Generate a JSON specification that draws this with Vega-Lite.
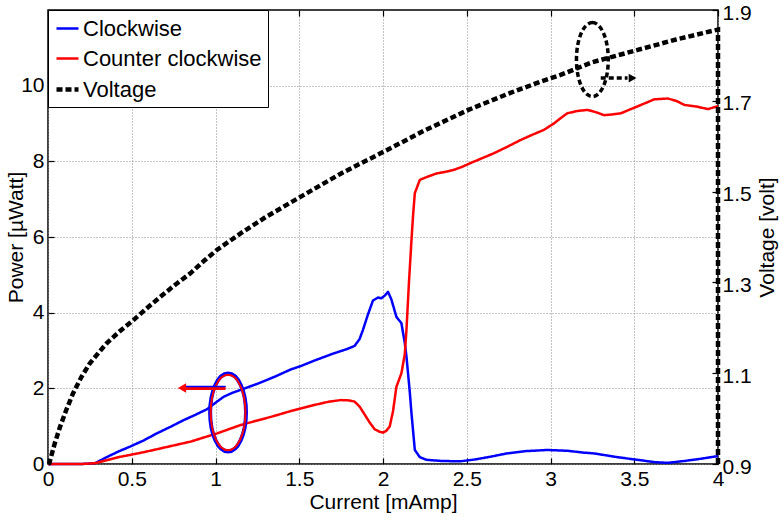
{
  "$schema": "https://vega.github.io/schema/vega-lite/v6.json",
  "width": 670,
  "height": 454,
  "autosize": {"type": "none"},
  "padding": {"left": 48, "top": 10, "right": 61, "bottom": 53},
  "background": "white",
  "config": {
    "font": "Liberation Sans",
    "view": {"stroke": "black", "strokeWidth": 1.5},
    "axis": {
      "labelFont": "Liberation Sans", "labelFontSize": 21, "labelColor": "black",
      "titleFont": "Liberation Sans", "titleFontSize": 21, "titleFontWeight": "normal", "titleColor": "black",
      "tickColor": "black", "tickSize": -6, "tickWidth": 1.2, "domain": false,
      "gridColor": "#8a8a8a", "gridDash": [1, 2], "gridOpacity": 1, "gridWidth": 1,
      "labelPadding": 10
    },
    "legend": {
      "orient": "top-left", "offset": 0, "fillColor": "white", "strokeColor": "black",
      "padding": 6, "labelFont": "Liberation Sans", "labelFontSize": 22, "labelColor": "black",
      "symbolType": "stroke", "symbolSize": 484, "rowPadding": 6, "labelOffset": 2, "labelLimit": 400
    }
  },
  "datasets": {
    "curves": [
      {"series": "Clockwise", "x": 0, "y": 0},
      {"series": "Clockwise", "x": 0.1, "y": 0},
      {"series": "Clockwise", "x": 0.2, "y": 0},
      {"series": "Clockwise", "x": 0.28, "y": 0.02},
      {"series": "Clockwise", "x": 0.35, "y": 0.18},
      {"series": "Clockwise", "x": 0.42, "y": 0.33},
      {"series": "Clockwise", "x": 0.49, "y": 0.46},
      {"series": "Clockwise", "x": 0.57, "y": 0.62},
      {"series": "Clockwise", "x": 0.65, "y": 0.81},
      {"series": "Clockwise", "x": 0.73, "y": 0.98},
      {"series": "Clockwise", "x": 0.81, "y": 1.16},
      {"series": "Clockwise", "x": 0.88, "y": 1.3},
      {"series": "Clockwise", "x": 0.95, "y": 1.45},
      {"series": "Clockwise", "x": 1.0, "y": 1.62},
      {"series": "Clockwise", "x": 1.05, "y": 1.78},
      {"series": "Clockwise", "x": 1.1, "y": 1.88},
      {"series": "Clockwise", "x": 1.15, "y": 1.96},
      {"series": "Clockwise", "x": 1.25, "y": 2.12},
      {"series": "Clockwise", "x": 1.35, "y": 2.3},
      {"series": "Clockwise", "x": 1.45, "y": 2.5},
      {"series": "Clockwise", "x": 1.51, "y": 2.59},
      {"series": "Clockwise", "x": 1.6, "y": 2.75},
      {"series": "Clockwise", "x": 1.71, "y": 2.93},
      {"series": "Clockwise", "x": 1.78, "y": 3.03},
      {"series": "Clockwise", "x": 1.83, "y": 3.12},
      {"series": "Clockwise", "x": 1.86, "y": 3.3},
      {"series": "Clockwise", "x": 1.88, "y": 3.54},
      {"series": "Clockwise", "x": 1.91, "y": 3.95},
      {"series": "Clockwise", "x": 1.94, "y": 4.32},
      {"series": "Clockwise", "x": 1.97, "y": 4.4},
      {"series": "Clockwise", "x": 1.99, "y": 4.38},
      {"series": "Clockwise", "x": 2.01, "y": 4.45},
      {"series": "Clockwise", "x": 2.03, "y": 4.55},
      {"series": "Clockwise", "x": 2.05, "y": 4.35},
      {"series": "Clockwise", "x": 2.08, "y": 3.89},
      {"series": "Clockwise", "x": 2.11, "y": 3.72},
      {"series": "Clockwise", "x": 2.13, "y": 3.2},
      {"series": "Clockwise", "x": 2.14, "y": 2.84},
      {"series": "Clockwise", "x": 2.16, "y": 1.9},
      {"series": "Clockwise", "x": 2.17, "y": 1.34},
      {"series": "Clockwise", "x": 2.19, "y": 0.37},
      {"series": "Clockwise", "x": 2.22, "y": 0.18},
      {"series": "Clockwise", "x": 2.26, "y": 0.11},
      {"series": "Clockwise", "x": 2.35, "y": 0.08},
      {"series": "Clockwise", "x": 2.46, "y": 0.07},
      {"series": "Clockwise", "x": 2.55, "y": 0.12},
      {"series": "Clockwise", "x": 2.65, "y": 0.2},
      {"series": "Clockwise", "x": 2.74, "y": 0.28},
      {"series": "Clockwise", "x": 2.85, "y": 0.34},
      {"series": "Clockwise", "x": 2.98, "y": 0.37},
      {"series": "Clockwise", "x": 3.1, "y": 0.35},
      {"series": "Clockwise", "x": 3.2, "y": 0.3},
      {"series": "Clockwise", "x": 3.26, "y": 0.28},
      {"series": "Clockwise", "x": 3.4, "y": 0.18},
      {"series": "Clockwise", "x": 3.52, "y": 0.11},
      {"series": "Clockwise", "x": 3.62, "y": 0.05},
      {"series": "Clockwise", "x": 3.7, "y": 0.03},
      {"series": "Clockwise", "x": 3.8, "y": 0.08},
      {"series": "Clockwise", "x": 3.9, "y": 0.14},
      {"series": "Clockwise", "x": 4.0, "y": 0.21},
      {"series": "Counter clockwise", "x": 0, "y": 0},
      {"series": "Counter clockwise", "x": 0.2, "y": 0},
      {"series": "Counter clockwise", "x": 0.28, "y": 0.02},
      {"series": "Counter clockwise", "x": 0.35, "y": 0.1},
      {"series": "Counter clockwise", "x": 0.42, "y": 0.18},
      {"series": "Counter clockwise", "x": 0.49, "y": 0.24},
      {"series": "Counter clockwise", "x": 0.58, "y": 0.32},
      {"series": "Counter clockwise", "x": 0.67, "y": 0.41},
      {"series": "Counter clockwise", "x": 0.76, "y": 0.5},
      {"series": "Counter clockwise", "x": 0.85, "y": 0.59},
      {"series": "Counter clockwise", "x": 0.93, "y": 0.7},
      {"series": "Counter clockwise", "x": 1.01, "y": 0.81},
      {"series": "Counter clockwise", "x": 1.08, "y": 0.92},
      {"series": "Counter clockwise", "x": 1.15, "y": 1.03},
      {"series": "Counter clockwise", "x": 1.25, "y": 1.15},
      {"series": "Counter clockwise", "x": 1.35, "y": 1.27},
      {"series": "Counter clockwise", "x": 1.45, "y": 1.4},
      {"series": "Counter clockwise", "x": 1.51, "y": 1.47},
      {"series": "Counter clockwise", "x": 1.6, "y": 1.57},
      {"series": "Counter clockwise", "x": 1.68, "y": 1.65},
      {"series": "Counter clockwise", "x": 1.75, "y": 1.69},
      {"series": "Counter clockwise", "x": 1.8, "y": 1.68},
      {"series": "Counter clockwise", "x": 1.83, "y": 1.65},
      {"series": "Counter clockwise", "x": 1.86, "y": 1.52},
      {"series": "Counter clockwise", "x": 1.88, "y": 1.38},
      {"series": "Counter clockwise", "x": 1.92, "y": 1.1},
      {"series": "Counter clockwise", "x": 1.95, "y": 0.92},
      {"series": "Counter clockwise", "x": 1.98, "y": 0.85},
      {"series": "Counter clockwise", "x": 2.0, "y": 0.83},
      {"series": "Counter clockwise", "x": 2.02, "y": 0.88},
      {"series": "Counter clockwise", "x": 2.04, "y": 0.99},
      {"series": "Counter clockwise", "x": 2.06, "y": 1.4},
      {"series": "Counter clockwise", "x": 2.08, "y": 2.04},
      {"series": "Counter clockwise", "x": 2.11, "y": 2.4},
      {"series": "Counter clockwise", "x": 2.13, "y": 2.9},
      {"series": "Counter clockwise", "x": 2.14, "y": 3.54},
      {"series": "Counter clockwise", "x": 2.155, "y": 4.8},
      {"series": "Counter clockwise", "x": 2.17, "y": 5.92},
      {"series": "Counter clockwise", "x": 2.18, "y": 6.6},
      {"series": "Counter clockwise", "x": 2.19, "y": 7.16},
      {"series": "Counter clockwise", "x": 2.22, "y": 7.51},
      {"series": "Counter clockwise", "x": 2.27, "y": 7.6},
      {"series": "Counter clockwise", "x": 2.32, "y": 7.68},
      {"series": "Counter clockwise", "x": 2.37, "y": 7.72},
      {"series": "Counter clockwise", "x": 2.42, "y": 7.77},
      {"series": "Counter clockwise", "x": 2.47, "y": 7.85},
      {"series": "Counter clockwise", "x": 2.52, "y": 7.95},
      {"series": "Counter clockwise", "x": 2.59, "y": 8.08},
      {"series": "Counter clockwise", "x": 2.66, "y": 8.21},
      {"series": "Counter clockwise", "x": 2.74, "y": 8.38},
      {"series": "Counter clockwise", "x": 2.82, "y": 8.56},
      {"series": "Counter clockwise", "x": 2.89, "y": 8.7},
      {"series": "Counter clockwise", "x": 2.96, "y": 8.83},
      {"series": "Counter clockwise", "x": 3.02, "y": 9.0},
      {"series": "Counter clockwise", "x": 3.06, "y": 9.14},
      {"series": "Counter clockwise", "x": 3.1, "y": 9.27},
      {"series": "Counter clockwise", "x": 3.16, "y": 9.33},
      {"series": "Counter clockwise", "x": 3.22, "y": 9.36},
      {"series": "Counter clockwise", "x": 3.27, "y": 9.3},
      {"series": "Counter clockwise", "x": 3.32, "y": 9.22},
      {"series": "Counter clockwise", "x": 3.37, "y": 9.24},
      {"series": "Counter clockwise", "x": 3.42, "y": 9.27},
      {"series": "Counter clockwise", "x": 3.48, "y": 9.38},
      {"series": "Counter clockwise", "x": 3.54, "y": 9.49},
      {"series": "Counter clockwise", "x": 3.62, "y": 9.64},
      {"series": "Counter clockwise", "x": 3.7, "y": 9.66},
      {"series": "Counter clockwise", "x": 3.75, "y": 9.6},
      {"series": "Counter clockwise", "x": 3.8, "y": 9.49},
      {"series": "Counter clockwise", "x": 3.87, "y": 9.45},
      {"series": "Counter clockwise", "x": 3.94, "y": 9.38},
      {"series": "Counter clockwise", "x": 4.0, "y": 9.46},
      {"series": "Voltage", "x": 0, "y": 0.9},
      {"series": "Voltage", "x": 0.008, "y": 0.902},
      {"series": "Voltage", "x": 0.04, "y": 0.945},
      {"series": "Voltage", "x": 0.072, "y": 0.982},
      {"series": "Voltage", "x": 0.11, "y": 1.02},
      {"series": "Voltage", "x": 0.15, "y": 1.056},
      {"series": "Voltage", "x": 0.2, "y": 1.092},
      {"series": "Voltage", "x": 0.25, "y": 1.122},
      {"series": "Voltage", "x": 0.35, "y": 1.166},
      {"series": "Voltage", "x": 0.43, "y": 1.193},
      {"series": "Voltage", "x": 0.51, "y": 1.217},
      {"series": "Voltage", "x": 0.59, "y": 1.243},
      {"series": "Voltage", "x": 0.67, "y": 1.268},
      {"series": "Voltage", "x": 0.76, "y": 1.295},
      {"series": "Voltage", "x": 0.85, "y": 1.32},
      {"series": "Voltage", "x": 0.93, "y": 1.347},
      {"series": "Voltage", "x": 1.01, "y": 1.372},
      {"series": "Voltage", "x": 1.15, "y": 1.408},
      {"series": "Voltage", "x": 1.3, "y": 1.444},
      {"series": "Voltage", "x": 1.51, "y": 1.489},
      {"series": "Voltage", "x": 1.75, "y": 1.54},
      {"series": "Voltage", "x": 2.005, "y": 1.588},
      {"series": "Voltage", "x": 2.25, "y": 1.635},
      {"series": "Voltage", "x": 2.51, "y": 1.68},
      {"series": "Voltage", "x": 2.75, "y": 1.716},
      {"series": "Voltage", "x": 2.94, "y": 1.742},
      {"series": "Voltage", "x": 3.06, "y": 1.757},
      {"series": "Voltage", "x": 3.25, "y": 1.785},
      {"series": "Voltage", "x": 3.52, "y": 1.812},
      {"series": "Voltage", "x": 3.75, "y": 1.835},
      {"series": "Voltage", "x": 4.0, "y": 1.857},
      {"series": "Voltage", "x": 4.0, "y": 0.9}
    ],
    "notes": [
      {"kind": "ellB", "x": 1.075, "y": 1.36},
      {"kind": "arrow", "x": 1.06, "x2": 0.82, "y": 2.01},
      {"kind": "head", "x": 0.8, "y": 2.01},
      {"kind": "ellK", "x": 3.25, "y": 10.69},
      {"kind": "arrowK", "x": 3.3, "x2": 3.46, "y": 10.2},
      {"kind": "headK", "x": 3.49, "y": 10.2}
    ]
  },
  "layer": [
    {
      "layer": [
        {
          "data": {"name": "curves"},
          "transform": [{"filter": "datum.series !== 'Voltage'"}],
          "mark": {"type": "line", "strokeCap": "butt", "strokeJoin": "round"},
          "encoding": {
            "x": {"field": "x", "type": "quantitative", "scale": {"domain": [0, 4]},
                  "axis": {"values": [0, 0.5, 1, 1.5, 2, 2.5, 3, 3.5, 4], "title": "Current [mAmp]", "format": "~g", "grid": true, "labelFlush": false, "titlePadding": 2}},
            "y": {"field": "y", "type": "quantitative", "scale": {"domain": [0, 12]},
                  "axis": {"values": [0, 2, 4, 6, 8, 10], "title": "Power [µWatt]", "grid": true, "titlePadding": -6}},
            "color": {"field": "series", "type": "nominal", "title": null,
                      "scale": {"domain": ["Clockwise", "Counter clockwise", "Voltage"], "range": ["#0000ff", "#ff0000", "#000000"]}},
            "strokeDash": {"field": "series", "type": "nominal", "title": null,
                           "scale": {"domain": ["Clockwise", "Counter clockwise", "Voltage"], "range": [[1, 0], [1, 0], [6, 3]]}},
            "strokeWidth": {"field": "series", "type": "nominal", "title": null,
                            "scale": {"type": "ordinal", "domain": ["Clockwise", "Counter clockwise", "Voltage"], "range": [2.5, 2.5, 4.5]}}
          }
        },
        {
          "data": {"name": "notes"},
          "transform": [{"filter": "datum.kind === 'ellB'"}],
          "mark": {"type": "point", "shape": "M0,-1A0.46,1,0,1,1,0,1A0.46,1,0,1,1,0,-1Z", "size": 6084, "filled": false, "stroke": "#0000ff", "strokeWidth": 4, "opacity": 1},
          "encoding": {"x": {"field": "x", "type": "quantitative"}, "y": {"field": "y", "type": "quantitative"}}
        },
        {
          "data": {"name": "notes"},
          "transform": [{"filter": "datum.kind === 'ellB'"}],
          "mark": {"type": "point", "shape": "M0,-1A0.46,1,0,1,1,0,1A0.46,1,0,1,1,0,-1Z", "size": 5700, "filled": false, "stroke": "#ff0000", "strokeWidth": 2, "opacity": 1},
          "encoding": {"x": {"field": "x", "type": "quantitative"}, "y": {"field": "y", "type": "quantitative"}}
        },
        {
          "data": {"name": "notes"},
          "transform": [{"filter": "datum.kind === 'arrow'"}],
          "mark": {"type": "rule", "stroke": "#ff0000", "strokeWidth": 4},
          "encoding": {"x": {"field": "x", "type": "quantitative"}, "x2": {"field": "x2"}, "y": {"field": "y", "type": "quantitative"}}
        },
        {
          "data": {"name": "notes"},
          "transform": [{"filter": "datum.kind === 'arrow'"}],
          "mark": {"type": "rule", "stroke": "#0000ff", "strokeWidth": 1.5, "yOffset": -1.5},
          "encoding": {"x": {"field": "x", "type": "quantitative"}, "x2": {"field": "x2"}, "y": {"field": "y", "type": "quantitative"}}
        },
        {
          "data": {"name": "notes"},
          "transform": [{"filter": "datum.kind === 'head'"}],
          "mark": {"type": "point", "shape": "triangle-left", "size": 90, "filled": true, "color": "#ff0000", "opacity": 1},
          "encoding": {"x": {"field": "x", "type": "quantitative"}, "y": {"field": "y", "type": "quantitative"}}
        },
        {
          "data": {"name": "notes"},
          "transform": [{"filter": "datum.kind === 'ellK'"}],
          "mark": {"type": "point", "shape": "M0,-1A0.43,1,0,1,1,0,1A0.43,1,0,1,1,0,-1Z", "size": 5476, "filled": false, "stroke": "#000000", "strokeWidth": 3.5, "strokeDash": [5, 3], "opacity": 1},
          "encoding": {"x": {"field": "x", "type": "quantitative"}, "y": {"field": "y", "type": "quantitative"}}
        },
        {
          "data": {"name": "notes"},
          "transform": [{"filter": "datum.kind === 'arrowK'"}],
          "mark": {"type": "rule", "stroke": "#000000", "strokeWidth": 3.5, "strokeDash": [5, 3]},
          "encoding": {"x": {"field": "x", "type": "quantitative"}, "x2": {"field": "x2"}, "y": {"field": "y", "type": "quantitative"}}
        },
        {
          "data": {"name": "notes"},
          "transform": [{"filter": "datum.kind === 'headK'"}],
          "mark": {"type": "point", "shape": "triangle-right", "size": 80, "filled": true, "color": "#000000", "opacity": 1},
          "encoding": {"x": {"field": "x", "type": "quantitative"}, "y": {"field": "y", "type": "quantitative"}}
        }
      ]
    },
    {
      "data": {"name": "curves"},
      "transform": [{"filter": "datum.series === 'Voltage'"}],
      "mark": {"type": "line", "strokeCap": "butt"},
      "encoding": {
        "x": {"field": "x", "type": "quantitative", "scale": {"domain": [0, 4]},
              "axis": {"orient": "top", "values": [0, 0.5, 1, 1.5, 2, 2.5, 3, 3.5, 4], "labels": false, "title": null, "grid": false}},
        "y": {"field": "y", "type": "quantitative", "scale": {"domain": [0.9, 1.9]},
              "axis": {"orient": "right", "values": [0.9, 1.1, 1.3, 1.5, 1.7, 1.9], "format": ".1f", "title": "Voltage [volt]", "titleAngle": 270, "grid": false, "titlePadding": 26, "labelOffset": 3}},
        "color": {"field": "series", "type": "nominal", "title": null,
                  "scale": {"domain": ["Clockwise", "Counter clockwise", "Voltage"], "range": ["#0000ff", "#ff0000", "#000000"]}},
        "strokeDash": {"field": "series", "type": "nominal", "title": null,
                       "scale": {"domain": ["Clockwise", "Counter clockwise", "Voltage"], "range": [[1, 0], [1, 0], [6, 3]]}},
        "strokeWidth": {"field": "series", "type": "nominal", "title": null,
                        "scale": {"type": "ordinal", "domain": ["Clockwise", "Counter clockwise", "Voltage"], "range": [2.5, 2.5, 4.5]}}
      }
    }
  ],
  "resolve": {"scale": {"y": "independent"}, "axis": {"x": "independent"}}
}
